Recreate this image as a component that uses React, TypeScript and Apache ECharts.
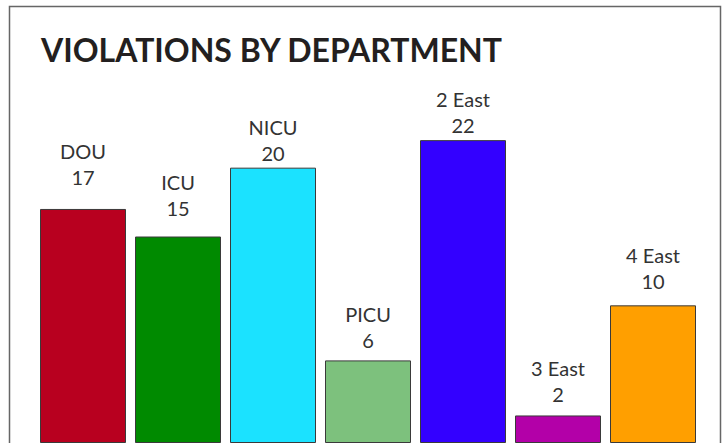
import React, { useEffect, useRef } from "react";
import * as echarts from "echarts";

const departments = ["DOU", "ICU", "NICU", "PICU", "2 East", "3 East", "4 East"];
const violations = [17, 15, 20, 6, 22, 2, 10];
const barColors = ["#B8001F", "#008A00", "#1BE2FF", "#7DC17D", "#3300FF", "#B300A8", "#FF9F00"];
const labelDistances = [19, 16, 2, 7, 2, 8, 11];
const titleText = "VIOLATIONS BY DEPARTMENT";

export default function App() {
  const ref = useRef<HTMLDivElement>(null);
  useEffect(() => {
    if (!ref.current) return;
    const chart = echarts.init(ref.current, undefined, { renderer: "svg" });
    chart.setOption({
      animation: false,
      backgroundColor: "#ffffff",
      title: {
        text: titleText,
        left: 36,
        top: 28,
        textStyle: {
          fontFamily: "Lato",
          fontWeight: "bold",
          fontSize: 32,
          color: "#231F20",
        },
      },
      graphic: [
        {
          type: "rect",
          shape: { x: 9.5, y: 6.5, width: 711, height: 520 },
          style: { fill: "none", stroke: "#666666", lineWidth: 1.5 },
          z: 100,
        },
      ],
      grid: { left: 35.5, right: 25.5, top: 30, bottom: -2.4, containLabel: false },
      xAxis: {
        type: "category",
        data: departments,
        show: false,
      },
      yAxis: {
        type: "value",
        min: 0,
        max: 30,
        show: false,
        splitLine: { show: false },
      },
      series: [
        {
          type: "bar",
          barWidth: 86,
          data: violations.map((v, i) => ({
            value: v,
            itemStyle: { color: barColors[i] },
            label: { distance: labelDistances[i] },
          })),
          itemStyle: { borderColor: "#3a3a3a", borderWidth: 1 },
          label: {
            show: true,
            position: "top",
            formatter: (p: any) => `${p.name}\n${p.value}`,
            fontFamily: "Lato",
            fontSize: 20,
            lineHeight: 26,
            color: "#333333",
          },
        },
      ],
    });
    return () => chart.dispose();
  }, []);
  return (
    <div
      ref={ref}
      style={{ position: "fixed", left: 0, top: 0, width: 726, height: 443 }}
    />
  );
}
